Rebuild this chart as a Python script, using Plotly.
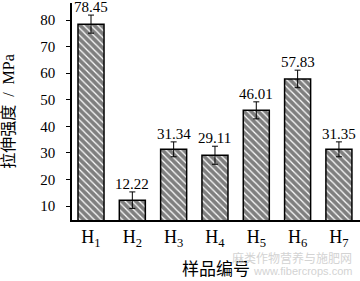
import plotly.graph_objects as go

categories = ["H<sub>1</sub>", "H<sub>2</sub>", "H<sub>3</sub>", "H<sub>4</sub>",
              "H<sub>5</sub>", "H<sub>6</sub>", "H<sub>7</sub>"]
values = [78.45, 12.22, 31.34, 29.11, 46.01, 57.83, 31.35]
errors = [3.4, 3.1, 2.8, 3.4, 3.2, 3.3, 2.8]
value_labels = ["78.45", "12.22", "31.34", "29.11", "46.01", "57.83", "31.35"]
y_ticks = [10, 20, 30, 40, 50, 60, 70, 80]

serif = "Liberation Serif, Times New Roman, serif"
mixed = "Liberation Serif, Noto Sans CJK SC, serif"
cjk = "Noto Sans CJK SC, sans-serif"

x_idx = list(range(len(categories)))

fig = go.Figure()
fig.add_trace(go.Bar(
    x=x_idx, y=values, width=0.63,
    marker=dict(color="white", line=dict(color="black", width=1.5),
                pattern=dict(shape="\\", fgcolor="black", bgcolor="white",
                             size=5, solidity=0.75)),
    error_y=dict(type="data", array=errors, color="black", thickness=1, width=3),
    showlegend=False,
))

for xi, v, e, t in zip(x_idx, values, errors, value_labels):
    fig.add_annotation(x=xi, y=v + e, text=t, showarrow=False, yanchor="bottom",
                       yshift=-2, font=dict(family=serif, size=15, color="black"))

fig.add_annotation(xref="paper", yref="paper", x=0.98, y=-0.175, xanchor="right",
                   yanchor="middle", text="麻类作物营养与施肥网", showarrow=False,
                   font=dict(family=cjk, size=12, color="#d3d3d3"))
fig.add_annotation(xref="paper", yref="paper", x=0.98, y=-0.235, xanchor="right",
                   yanchor="middle", text="www.fibercrops.com", showarrow=False,
                   font=dict(family="Liberation Sans, sans-serif", size=11, color="#d3d3d3"))

fig.update_layout(
    width=360, height=281,
    margin=dict(l=72, r=0, t=3, b=61),
    plot_bgcolor="white", paper_bgcolor="white",
    xaxis=dict(range=[-0.46, 6.51], tickmode="array", tickvals=x_idx,
               ticktext=categories, showline=True, linecolor="black", linewidth=1.5,
               showgrid=False, zeroline=False, ticks="",
               tickfont=dict(family=serif, size=18, color="black"),
               title=dict(text="样品编号", font=dict(family=mixed, size=17, color="black"),
                          standoff=14)),
    yaxis=dict(range=[4.75, 86.4], tickmode="array", tickvals=y_ticks,
               showline=True, linecolor="black", linewidth=1.5, showgrid=False,
               zeroline=False, ticks="outside", ticklen=4, tickcolor="black",
               ticklabelstandoff=8,
               tickfont=dict(family=serif, size=15, color="black"),
               title=dict(text="拉伸强度  /  MPa", font=dict(family=mixed, size=16, color="black"),
                          standoff=26)),
)

fig.write_html("out.html")
